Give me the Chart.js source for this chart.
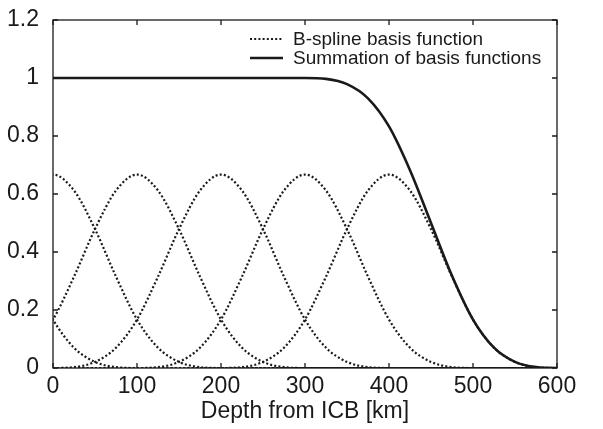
<!DOCTYPE html>
<html>
<head>
<meta charset="utf-8">
<script src="https://cdn.jsdelivr.net/npm/chart.js@4/dist/chart.umd.min.js"></script>
<style>
  html, body { margin: 0; padding: 0; background: #fff; }
  #wrap { width: 603px; height: 429px; position: relative; }
</style>
</head>
<body>
<div id="wrap"><canvas id="chart"></canvas></div>
<script>
const depthKm = [-25, 0, 25, 50, 75, 100, 125, 150, 175, 200, 225, 250, 275, 300,
                 325, 350, 375, 400, 425, 450, 475, 500, 525, 550, 575, 600, 625];

// one basis function per knot centre (-100, 0, 100, 200, 300, 400 km)
const basisM100 = [0.315, 0.167, 0.070, 0.021, 0.003, 0, 0, 0, 0, 0, 0, 0, 0, 0,
                   0, 0, 0, 0, 0, 0, 0, 0, 0, 0, 0, 0, 0];
const basis0    = [0.612, 0.667, 0.612, 0.479, 0.315, 0.167, 0.070, 0.021, 0.003, 0, 0, 0, 0, 0,
                   0, 0, 0, 0, 0, 0, 0, 0, 0, 0, 0, 0, 0];
const basis100  = [0.070, 0.167, 0.315, 0.479, 0.612, 0.667, 0.612, 0.479, 0.315, 0.167, 0.070, 0.021, 0.003, 0,
                   0, 0, 0, 0, 0, 0, 0, 0, 0, 0, 0, 0, 0];
const basis200  = [0, 0, 0.003, 0.021, 0.070, 0.167, 0.315, 0.479, 0.612, 0.667, 0.612, 0.479, 0.315, 0.167,
                   0.070, 0.021, 0.003, 0, 0, 0, 0, 0, 0, 0, 0, 0, 0];
const basis300  = [0, 0, 0, 0, 0, 0, 0.003, 0.021, 0.070, 0.167, 0.315, 0.479, 0.612, 0.667,
                   0.612, 0.479, 0.315, 0.167, 0.070, 0.021, 0.003, 0, 0, 0, 0, 0, 0];
const basis400  = [0, 0, 0, 0, 0, 0, 0, 0, 0, 0, 0.003, 0.021, 0.070, 0.167,
                   0.315, 0.479, 0.612, 0.667, 0.612, 0.479, 0.315, 0.167, 0.070, 0.021, 0.003, 0, 0];
const summation = [1, 1, 1, 1, 1, 1, 1, 1, 1, 1, 1, 1, 1, 1,
                   0.997, 0.979, 0.930, 0.833, 0.682, 0.500, 0.318, 0.167, 0.070, 0.021, 0.003, 0, 0];

const xTicks = [0, 100, 200, 300, 400, 500, 600];
const yTicks = [0, 0.2, 0.4, 0.6, 0.8, 1, 1.2];
const yTickLabels = ['0', '0.2', '0.4', '0.6', '0.8', '1', '1.2'];

const legendLabels = ['B-spline basis function', 'Summation of basis functions'];

const FONT = '"Liberation Sans", Arial, Helvetica, sans-serif';
const INK = '#1a1a1a';

const toPoints = ys => depthKm.map((x, i) => ({ x: x, y: ys[i] }));

const dotted = ys => ({
    data: toPoints(ys),
    borderColor: INK,
    borderWidth: 2.2,
    borderDash: [2, 2.2],
    pointRadius: 0,
    cubicInterpolationMode: 'monotone',
    fill: false
});

const datasets = [basisM100, basis0, basis100, basis200, basis300, basis400].map(dotted);
datasets.push({
    data: toPoints(summation),
    borderColor: INK,
    borderWidth: 2.6,
    pointRadius: 0,
    cubicInterpolationMode: 'monotone',
    fill: false
});

// frame around the plot + inward ticks on all four sides
const framePlugin = {
    id: 'frame',
    afterDatasetsDraw(chart) {
        const { ctx, chartArea: a, scales } = chart;
        const len = 5;
        ctx.save();
        ctx.strokeStyle = INK;
        ctx.lineWidth = 1.3;
        ctx.strokeRect(a.left, a.top, a.right - a.left, a.bottom - a.top);
        ctx.beginPath();
        xTicks.forEach(v => {
            const px = scales.x.getPixelForValue(v);
            ctx.moveTo(px, a.bottom); ctx.lineTo(px, a.bottom - len);
            ctx.moveTo(px, a.top); ctx.lineTo(px, a.top + len);
        });
        yTicks.forEach(v => {
            const py = scales.y.getPixelForValue(v);
            ctx.moveTo(a.left, py); ctx.lineTo(a.left + len, py);
            ctx.moveTo(a.right, py); ctx.lineTo(a.right - len, py);
        });
        ctx.stroke();
        ctx.restore();
    }
};

// legend drawn inside the plot, top right
const legendPlugin = {
    id: 'innerLegend',
    afterDraw(chart) {
        const { ctx } = chart;
        const rows = [
            { y: 39, dash: [2, 2.2], width: 2.2 },
            { y: 58, dash: [], width: 2.6 }
        ];
        ctx.save();
        ctx.font = '19px ' + FONT;
        ctx.textBaseline = 'middle';
        ctx.fillStyle = INK;
        rows.forEach((r, i) => {
            ctx.beginPath();
            ctx.strokeStyle = INK;
            ctx.lineWidth = r.width;
            ctx.setLineDash(r.dash);
            ctx.moveTo(250, r.y);
            ctx.lineTo(283, r.y);
            ctx.stroke();
            ctx.setLineDash([]);
            ctx.fillText(legendLabels[i], 293, r.y + 1);
        });
        ctx.restore();
    }
};

new Chart(document.getElementById('chart'), {
    type: 'line',
    data: { datasets: datasets },
    options: {
        responsive: true,
        maintainAspectRatio: false,
        animation: false,
        layout: { padding: { top: 20, right: 46, left: 0, bottom: 4 } },
        plugins: { legend: { display: false }, tooltip: { enabled: false } },
        scales: {
            x: {
                type: 'linear',
                min: 0, max: 600,
                afterBuildTicks: s => { s.ticks = xTicks.map(v => ({ value: v })); },
                afterFit: s => { s.height = 57; },
                grid: { display: false },
                border: { display: false },
                ticks: { color: INK, font: { family: FONT, size: 23 }, padding: -3, maxRotation: 0 },
                title: {
                    display: true,
                    text: 'Depth from ICB [km]',
                    color: INK,
                    font: { family: FONT, size: 23 },
                    padding: { top: 0, bottom: 0 }
                }
            },
            y: {
                min: 0, max: 1.2,
                afterBuildTicks: s => { s.ticks = yTicks.map(v => ({ value: v })); },
                afterFit: s => { s.width = 53; },
                grid: { display: false },
                border: { display: false },
                ticks: {
                    color: INK,
                    font: { family: FONT, size: 23 },
                    padding: 6,
                    callback: (v) => yTickLabels[yTicks.indexOf(v)] ?? ''
                }
            }
        }
    },
    plugins: [framePlugin, legendPlugin]
});
</script>
</body>
</html>
